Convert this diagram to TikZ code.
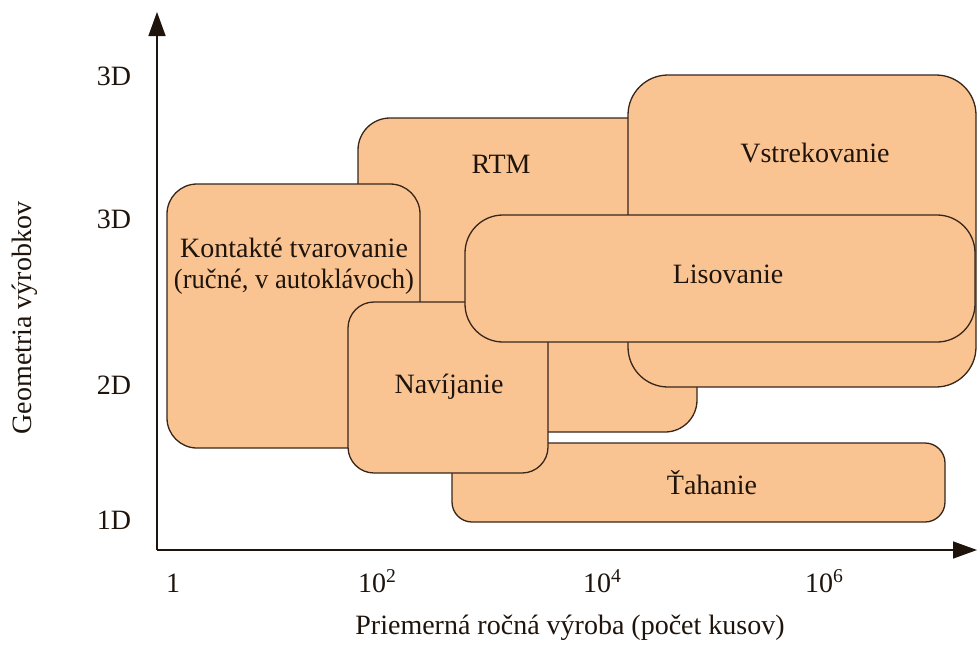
\documentclass[tikz,border=0pt]{standalone}
\usepackage{fontspec}
\setmainfont{Liberation Serif}
\usetikzlibrary{arrows.meta}
\definecolor{peach}{RGB}{250,196,146}
\definecolor{edgec}{RGB}{55,38,25}
\definecolor{ink}{RGB}{30,20,12}
\begin{document}
\begin{tikzpicture}[x=1pt,y=-1pt,
  box/.style={draw=edgec, fill=peach, line width=1.3pt, rectangle, inner sep=0pt, outer sep=0pt},
  lbl/.style={text=ink, font=\fontsize{28}{30}\selectfont, inner sep=0pt, anchor=base},
  axisline/.style={draw=ink, line width=1.5pt, -{Triangle[length=24pt,width=17pt]}}]
\useasboundingbox (0,0) rectangle (977,645);

% boxes (drawing order matters)
\node[box, rounded corners=32pt, minimum width=339pt, minimum height=314pt] (rtm) at (527.5,275) {};
\node[box, rounded corners=40pt, minimum width=348pt, minimum height=312pt] (vst) at (802,231) {};
\node[box, rounded corners=30pt, minimum width=253pt, minimum height=264pt] (kon) at (293.5,316) {};
\node[box, rounded corners=20pt, minimum width=493pt, minimum height=79pt] (tah) at (698.5,482.5) {};
\node[box, rounded corners=26pt, minimum width=200pt, minimum height=171pt] (nav) at (448,387.5) {};
\node[box, rounded corners=38pt, minimum width=510pt, minimum height=127pt] (lis) at (720,278.5) {};

% box labels
\node[lbl] (trtm) at (501,173) {RTM};
\node[lbl] (tvst) at (815,162) {Vstrekovanie};
\node[lbl] (tkon1) at (294,257) {Kontakté tvarovanie};
\node[lbl] (tkon2) at (294,288) {\scalebox{0.95}[1]{(ručné, v autoklávoch)}};
\node[lbl] (tlis) at (728,283) {Lisovanie};
\node[lbl] (tnav) at (449,393) {Navíjanie};
\node[lbl] (ttah) at (712,494) {Ťahanie};

% axes
\coordinate (o) at (157,550);
\coordinate (ytip) at (157,12);
\coordinate (xtip) at (977,550);
\draw[axisline] (o) -- (ytip);
\draw[axisline] (o) -- (xtip);

% y tick labels
\node[lbl] (y3a) at (114,85) {3D};
\node[lbl] (y3b) at (114,228) {3D};
\node[lbl] (y2) at (114,394) {2D};
\node[lbl] (y1) at (114,529) {1D};

% x tick labels
\node[lbl] (x0) at (173,592) {1};
\node[lbl, anchor=base west] (x2) at (358,592) {10\textsuperscript{2}};
\node[lbl, anchor=base west] (x4) at (583,592) {10\textsuperscript{4}};
\node[lbl, anchor=base west] (x6) at (805,592) {10\textsuperscript{6}};

% axis titles
\node[lbl] (xt) at (570,634) {Priemerná ročná výroba (počet kusov)};
\node[text=ink, font=\fontsize{28}{30}\selectfont, inner sep=0pt, rotate=90] (yt) at (25,318) {Geometria výrobkov};
\end{tikzpicture}
\end{document}
